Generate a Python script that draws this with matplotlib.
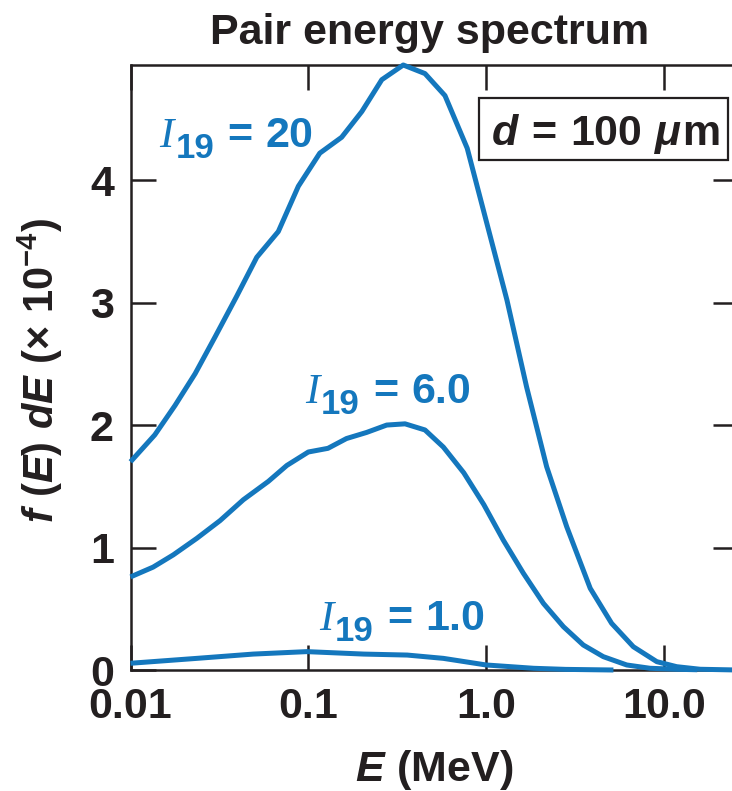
import matplotlib
matplotlib.use("Agg")
import matplotlib.pyplot as plt
from matplotlib.ticker import FixedLocator, FixedFormatter, NullLocator
from matplotlib.transforms import offset_copy
from matplotlib.patches import Rectangle

plt.rcParams['font.family'] = ['Liberation Sans', 'DejaVu Sans']
plt.rcParams['mathtext.fontset'] = 'custom'
plt.rcParams['mathtext.rm'] = 'Liberation Sans:bold'
plt.rcParams['mathtext.bf'] = 'Liberation Sans:bold'
plt.rcParams['mathtext.it'] = 'Liberation Sans:italic:bold'

# ---- data ----
E20 = [0.01, 0.0137, 0.0178, 0.0231, 0.0299, 0.0395, 0.0513, 0.0678, 0.0879, 0.116,
       0.154, 0.200, 0.259, 0.342, 0.453, 0.587, 0.783, 1.0, 1.31, 1.69, 2.19, 2.84,
       3.85, 5.08, 6.73, 9.12, 11.8, 16.0, 26.0]
F20 = [1.70, 1.92, 2.16, 2.42, 2.72, 3.05, 3.37, 3.58, 3.95, 4.22,
       4.35, 4.56, 4.82, 4.94, 4.87, 4.69, 4.26, 3.67, 3.02, 2.31, 1.66, 1.17,
       0.667, 0.381, 0.19, 0.068, 0.027, 0.006, 0.0]

E6 = [0.01, 0.0134, 0.0174, 0.0236, 0.0319, 0.0431, 0.0596, 0.0757, 0.1, 0.129,
      0.164, 0.213, 0.276, 0.35, 0.453, 0.575, 0.749, 0.971, 1.25, 1.62, 2.10,
      2.72, 3.52, 4.56, 6.18, 8.36, 11.8, 15.4]
F6 = [0.76, 0.84, 0.94, 1.075, 1.22, 1.39, 1.54, 1.67, 1.78, 1.81,
      1.89, 1.94, 2.00, 2.01, 1.96, 1.82, 1.61, 1.35, 1.06, 0.79, 0.544,
      0.354, 0.204, 0.109, 0.041, 0.014, 0.006, 0.002]

E1 = [0.01, 0.0236, 0.049, 0.098, 0.205, 0.36, 0.575, 1.0, 1.85, 2.8, 5.2]
F1 = [0.055, 0.095, 0.13, 0.15, 0.13, 0.122, 0.095, 0.041, 0.014, 0.005, 0.0]

xticks = [0.01, 0.1, 1.0, 10.0]
xticklabels = ['0.01', '0.1', '1.0', '10.0']
yticks = [0, 1, 2, 3, 4]
yticklabels = ['0', '1', '2', '3', '4']

curve_values = ['20', '6.0', '1.0']
label_pos = [(0.0145, 4.27), (0.0955, 2.18), (0.1145, 0.327)]

BLUE = '#1477BD'
INK = '#231F20'
FS = 31

W, H = 732, 791
fig = plt.figure(figsize=(W / 100, H / 100), dpi=100)
ax = fig.add_axes([130.5 / W, 1 - 670 / H, (738 - 130.5) / W, (670 - 65) / H])
renderer = fig.canvas.get_renderer()

for E, F in [(E20, F20), (E6, F6), (E1, F1)]:
    ax.plot(E, F, color=BLUE, lw=3.6, solid_capstyle='butt', clip_on=False, zorder=3)

ax.set_xscale('log')
ax.set_xlim(0.01, 26.1)
ax.set_ylim(0, 4.94)

ax.xaxis.set_major_locator(FixedLocator(xticks))
ax.xaxis.set_major_formatter(FixedFormatter(xticklabels))
ax.xaxis.set_minor_locator(NullLocator())
ax.yaxis.set_major_locator(FixedLocator(yticks))
ax.yaxis.set_major_formatter(FixedFormatter(yticklabels))

ax.tick_params(axis='both', which='major', direction='in', length=18, width=1.8,
               color=INK, labelcolor=INK, labelsize=FS, top=True, right=True)
ax.tick_params(axis='x', pad=12)
ax.tick_params(axis='y', pad=12)
for lab in ax.get_xticklabels() + ax.get_yticklabels():
    lab.set_fontweight('bold')
for s in ax.spines.values():
    s.set_linewidth(1.8)
    s.set_color(INK)


def chain(x, y, base, pieces, color):
    """Place text pieces one after another; each piece: (text, props, gap_px, dy_px)."""
    cur = 0.0
    for txt, props, gap, dy in pieces:
        cur += gap
        t = fig.text(x, y, txt, transform=offset_copy(base, fig=fig, x=cur, y=dy, units='dots'),
                     ha='left', va='baseline', color=color, **props)
        cur += t.get_window_extent(renderer).width


I_props = dict(fontsize=FS, family='Liberation Serif', style='italic')
sub_props = dict(fontsize=25, fontweight='bold')
bold_props = dict(fontsize=FS, fontweight='bold')
ital_props = dict(fontsize=FS, fontweight='bold', style='italic')

for val, (x, y) in zip(curve_values, label_pos):
    chain(x, y, ax.transData,
          [('I', I_props, 0, 0), ('19', sub_props, 2, -11),
           ('=', bold_props, 13, 0), (val, bold_props, 13, 0)], BLUE)

# boxed annotation d = 100 um
fig.patches.append(Rectangle((479 / W, 1 - 160 / H), (728 - 479) / W, (160 - 98) / H,
                             transform=fig.transFigure, fill=False, ec=INK, lw=1.6))
chain(492 / W, 1 - 145 / H, fig.transFigure,
      [('d', ital_props, 0, 0), ('=', bold_props, 13, 0), ('100', bold_props, 14, 0),
       ('\u03bc', ital_props, 13, 0), ('m', bold_props, 1, 0)], INK)

fig.text(430 / W, 1 - 44 / H, 'Pair energy spectrum', color=INK, fontsize=FS,
         fontweight='bold', ha='center', va='baseline')
fig.text(434 / W, 1 - 781 / H, r'$\mathit{E}\ \mathrm{(MeV)}$', color=INK, fontsize=FS,
         ha='center', va='baseline')
fig.text(40 / W, 1 - 371 / H,
         r'$\mathit{f}\ \mathrm{(}\mathit{E}\mathrm{)}\ \mathit{dE}\ \mathrm{(\times\ 10^{-4})}$',
         color=INK, fontsize=30, rotation=90, ha='center', va='center')

fig.savefig('out.png', dpi=100)
